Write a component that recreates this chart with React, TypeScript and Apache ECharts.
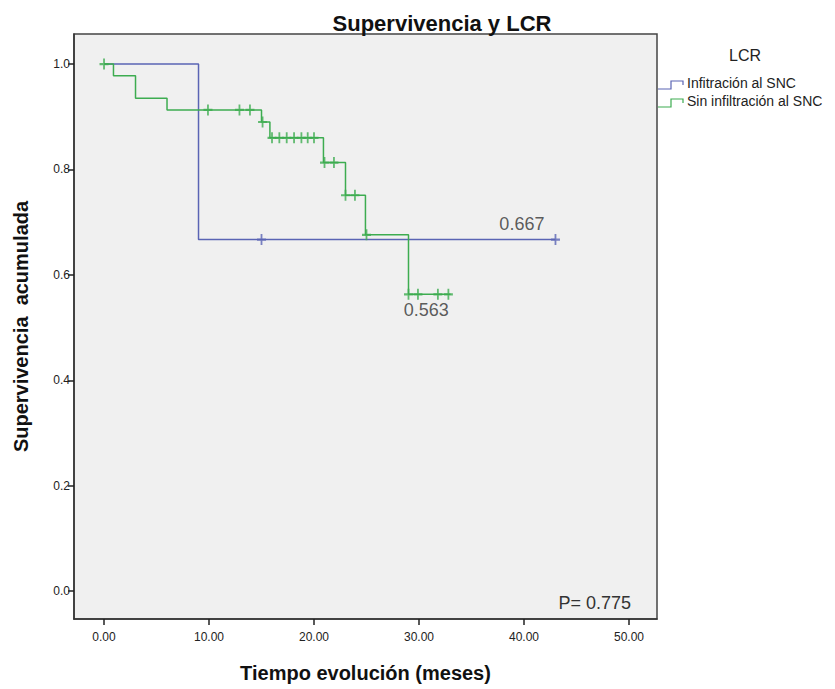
import React, { useEffect, useRef } from "react";
import * as echarts from "echarts";

// Kaplan–Meier step curves: [months, cumulative survival] after each event
const infiltracionCurve: [number, number][] = [
  [0, 1.0],
  [9, 0.667],
  [43, 0.667],
];
const infiltracionCensored: [number, number][] = [
  [15, 0.667],
  [43, 0.667],
];

const sinInfiltracionCurve: [number, number][] = [
  [0, 1.0],
  [0.9, 0.978],
  [3, 0.935],
  [6, 0.913],
  [15, 0.89],
  [15.8, 0.86],
  [20.9, 0.813],
  [23, 0.751],
  [24.9, 0.676],
  [29, 0.563],
  [33, 0.563],
];
const sinInfiltracionCensored: [number, number][] = [
  [0, 1.0],
  [9.9, 0.913],
  [12.9, 0.913],
  [13.9, 0.913],
  [15.1, 0.89],
  [16, 0.86],
  [16.7, 0.86],
  [17.4, 0.86],
  [18.1, 0.86],
  [18.8, 0.86],
  [19.4, 0.86],
  [20, 0.86],
  [21, 0.813],
  [21.9, 0.813],
  [23, 0.751],
  [23.9, 0.751],
  [25, 0.676],
  [29, 0.563],
  [29.9, 0.563],
  [31.8, 0.563],
  [32.8, 0.563],
];

const xTicks = [0, 10, 20, 30, 40, 50];
const yTicks = [0, 0.2, 0.4, 0.6, 0.8, 1.0];
const seriesNames = ["Infitración al SNC", "Sin infiltración al SNC"];
const finalSurvival = [0.667, 0.563];
const pValue = 0.775;

const BLUE = "#5a64b4";
const GREEN = "#3dac50";
const FONT = "Arial, 'Liberation Sans', sans-serif";
const CROSS = "path://M4,0h2v10h-2z M0,4h10v2h-10z";

export default function App() {
  const ref = useRef<HTMLDivElement>(null);

  useEffect(() => {
    document.body.style.margin = "0";
    if (!ref.current) return;
    const chart = echarts.init(ref.current, null, { renderer: "svg" });

    const legendItem = (y: number, color: string, name: string) => [
      {
        type: "polyline",
        shape: {
          points: [
            [658, y + 6],
            [671, y + 6],
            [671, y - 2],
            [683, y - 2],
            [683, y + 2],
          ],
        },
        style: { stroke: color, fill: null, lineWidth: 1.2 },
      },
      {
        type: "text",
        x: 687,
        y,
        style: {
          text: name,
          fill: "#222",
          font: `14px ${FONT}`,
          textVerticalAlign: "middle",
        },
      },
    ];

    chart.setOption({
      animation: false,
      backgroundColor: "#ffffff",
      title: {
        text: "Supervivencia y LCR",
        left: 437,
        textAlign: "center",
        top: 7,
        textStyle: { fontFamily: FONT, fontSize: 22, fontWeight: "bold", color: "#111" },
      },
      grid: {
        left: 74,
        top: 34,
        width: 583,
        height: 585,
        show: true,
        backgroundColor: "#f0f0f0",
        borderColor: "#444",
        borderWidth: 1.5,
      },
      xAxis: {
        type: "value",
        min: -2.86,
        max: 52.67,
        name: "Tiempo evolución (meses)",
        nameLocation: "middle",
        nameGap: 44,
        nameTextStyle: { fontFamily: FONT, fontSize: 20, fontWeight: "bold", color: "#111" },
        splitLine: { show: false },
        axisLine: { show: true, onZero: false, lineStyle: { color: "#333", width: 1.5 } },
        axisTick: { show: true, length: 6, customValues: xTicks, lineStyle: { color: "#222", width: 1.5 } },
        axisLabel: {
          customValues: xTicks,
          formatter: (v: number) => v.toFixed(2),
          fontFamily: FONT,
          fontSize: 12,
          color: "#222",
          margin: 12,
        },
      },
      yAxis: {
        type: "value",
        min: -0.053,
        max: 1.057,
        name: "Supervivencia  acumulada",
        nameLocation: "middle",
        nameRotate: 90,
        nameGap: 43,
        nameTextStyle: { fontFamily: FONT, fontSize: 20, fontWeight: "bold", color: "#111" },
        splitLine: { show: false },
        axisLine: { show: true, onZero: false, lineStyle: { color: "#333", width: 1.5 } },
        axisTick: { show: true, length: 6, customValues: yTicks, lineStyle: { color: "#222", width: 1.5 } },
        axisLabel: {
          customValues: yTicks,
          formatter: (v: number) => v.toFixed(1),
          fontFamily: FONT,
          fontSize: 12,
          color: "#222",
          margin: 4,
        },
      },
      series: [
        {
          name: seriesNames[0],
          type: "line",
          step: "end",
          data: infiltracionCurve,
          showSymbol: false,
          lineStyle: { color: BLUE, width: 1.5 },
          z: 2,
        },
        {
          name: seriesNames[0],
          type: "scatter",
          data: infiltracionCensored,
          symbol: CROSS,
          symbolSize: [9, 11],
          itemStyle: { color: BLUE },
          z: 3,
        },
        {
          name: seriesNames[1],
          type: "line",
          step: "end",
          data: sinInfiltracionCurve,
          showSymbol: false,
          lineStyle: { color: GREEN, width: 1.5 },
          z: 4,
        },
        {
          name: seriesNames[1],
          type: "scatter",
          data: sinInfiltracionCensored,
          symbol: CROSS,
          symbolSize: [9, 11],
          itemStyle: { color: GREEN },
          z: 5,
        },
        {
          type: "scatter",
          data: [
            { value: [39.8, finalSurvival[0]], label: { position: "top", distance: 7 } },
            { value: [30.7, finalSurvival[1]], label: { position: "bottom", distance: 7 } },
          ],
          symbolSize: 0,
          silent: true,
          label: {
            show: true,
            formatter: (p: any) => p.value[1].toFixed(3),
            fontFamily: FONT,
            fontSize: 18,
            color: "#333",
          },
          z: 6,
        },
      ],
      graphic: [
        {
          type: "text",
          x: 745,
          y: 55,
          style: {
            text: "LCR",
            fill: "#222",
            font: `16px ${FONT}`,
            textAlign: "center",
            textVerticalAlign: "middle",
          },
        },
        ...legendItem(83, BLUE, seriesNames[0]),
        ...legendItem(101, GREEN, seriesNames[1]),
        {
          type: "text",
          x: 631,
          y: 603,
          style: {
            text: `P= ${pValue}`,
            fill: "#333",
            font: `18px ${FONT}`,
            textAlign: "right",
            textVerticalAlign: "middle",
          },
        },
      ],
    });

    return () => chart.dispose();
  }, []);

  return <div ref={ref} style={{ width: 835, height: 689 }} />;
}
